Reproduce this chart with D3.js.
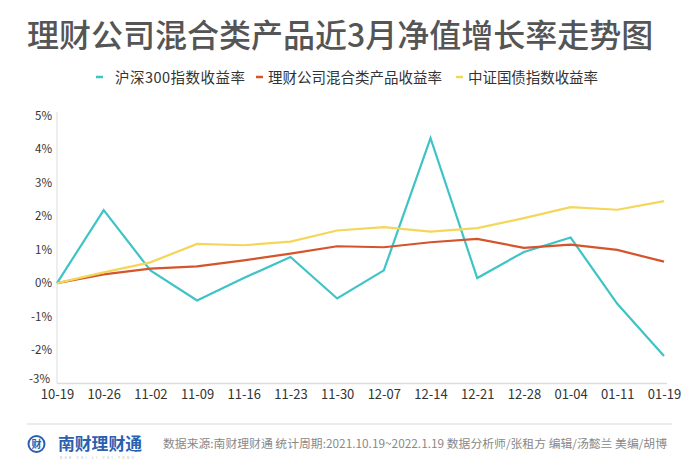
<!DOCTYPE html>
<html><head><meta charset="utf-8">
<script src="https://cdn.jsdelivr.net/npm/d3@7"></script>
<style>body{margin:0;background:#fff;}svg{display:block;font-family:"Noto Sans CJK SC","Noto Sans",sans-serif;}</style>
</head><body>
<svg id="c" width="700" height="468"></svg>
<script>
const categories = ["10-19","10-26","11-02","11-09","11-16","11-23","11-30","12-07","12-14","12-21","12-28","01-04","01-11","01-19"];
const csi300 = [0, 2.18, 0.38, -0.52, 0.15, 0.78, -0.46, 0.38, 4.33, 0.15, 0.93, 1.36, -0.62, -2.18];
const wealthMixed = [0, 0.26, 0.43, 0.5, 0.68, 0.88, 1.1, 1.07, 1.22, 1.32, 1.05, 1.15, 0.99, 0.64];
const bondIndex = [0, 0.32, 0.62, 1.17, 1.13, 1.24, 1.57, 1.67, 1.54, 1.64, 1.94, 2.27, 2.19, 2.45];
const yTicks = [-3,-2,-1,0,1,2,3,4,5];
const seriesNames = ["沪深300指数收益率","理财公司混合类产品收益率","中证国债指数收益率"];
const colors = ["#3ec3c6","#d4542b","#f4d65a"];

const svg = d3.select("#c");
svg.append("text").attr("x",27).attr("y",47).attr("font-size",32).attr("font-weight",500)
  .attr("fill","#555").text("理财公司混合类产品近3月净值增长率走势图");

// legend
const legDash = [96, 256, 456];
const legText = [115, 268, 468];
const legLen = [130, 174, 130];
seriesNames.forEach((n,i)=>{
  svg.append("line").attr("x1",legDash[i]).attr("x2",legDash[i]+7).attr("y1",77).attr("y2",77)
    .attr("stroke",colors[i]).attr("stroke-width",2.5);
  svg.append("text").attr("x",legText[i]).attr("y",83).attr("font-size",14.5).attr("fill","#333")
    .attr("textLength",legLen[i]).attr("lengthAdjust","spacing").text(n);
});

const x = d3.scalePoint().domain(categories).range([57,664]);
const y = d3.scaleLinear().domain([-3,5]).range([383.5,115.7]);

// axes lines
svg.append("line").attr("x1",57).attr("x2",57).attr("y1",112).attr("y2",383.5).attr("stroke","#ddd").attr("stroke-width",1);
svg.append("line").attr("x1",57).attr("x2",667).attr("y1",383.5).attr("y2",383.5).attr("stroke","#ddd").attr("stroke-width",1.5);

const yAxis = svg.append("g").attr("transform","translate(52,0)")
  .call(d3.axisLeft(y).tickValues(yTicks).tickFormat(d=>d+"%").tickSize(0).tickPadding(0));
yAxis.select(".domain").remove();
yAxis.selectAll("text").attr("font-size",11.5).attr("fill","#333").attr("font-family","'Noto Sans CJK SC',sans-serif");
yAxis.selectAll(".tick").filter(d=>d===-3).select("text").attr("dy","-0.1em").attr("x",-2);

const xAxis = svg.append("g").attr("transform","translate(0,388)")
  .call(d3.axisBottom(x).tickSize(0).tickPadding(0));
xAxis.select(".domain").remove();
xAxis.selectAll("text").attr("font-size",13).attr("fill","#333").attr("dy","0.85em").attr("font-family","'Noto Sans CJK SC',sans-serif");

const line = d3.line().x((d,i)=>x(categories[i])).y(d=>y(d));
[csi300, wealthMixed, bondIndex].forEach((s,i)=>{
  svg.append("path").datum(s).attr("d",line).attr("fill","none")
    .attr("stroke",colors[i]).attr("stroke-width",2.2).attr("stroke-linejoin","miter");
});

// footer
svg.append("line").attr("x1",27).attr("x2",672).attr("y1",424).attr("y2",424).attr("stroke","#e6e6e6").attr("stroke-width",1.5);
const logo = svg.append("g");
logo.append("circle").attr("cx",36.5).attr("cy",444).attr("r",8).attr("fill","none").attr("stroke","#2b5fb0").attr("stroke-width",2);
logo.append("text").attr("x",36.5).attr("y",448).attr("text-anchor","middle").attr("font-size",10).attr("font-weight",700).attr("fill","#2b5fb0").text("财");
logo.append("text").attr("x",58).attr("y",450).attr("font-size",16.5).attr("font-weight",700).attr("fill","#2b5fb0")
  .attr("textLength",84).attr("lengthAdjust","spacingAndGlyphs").text("南财理财通");
logo.append("text").attr("x",60).attr("y",459).attr("font-size",3).attr("fill","#9ab").attr("letter-spacing",2.5).text("NAN CAI LI CAI TONG");
svg.append("text").attr("x",163).attr("y",448).attr("font-size",11.3).attr("fill","#888")
  .attr("textLength",504).attr("lengthAdjust","spacingAndGlyphs")
  .text("数据来源:南财理财通 统计周期:2021.10.19~2022.1.19 数据分析师/张租方 编辑/汤懿兰 美编/胡博");
</script>
</body></html>
